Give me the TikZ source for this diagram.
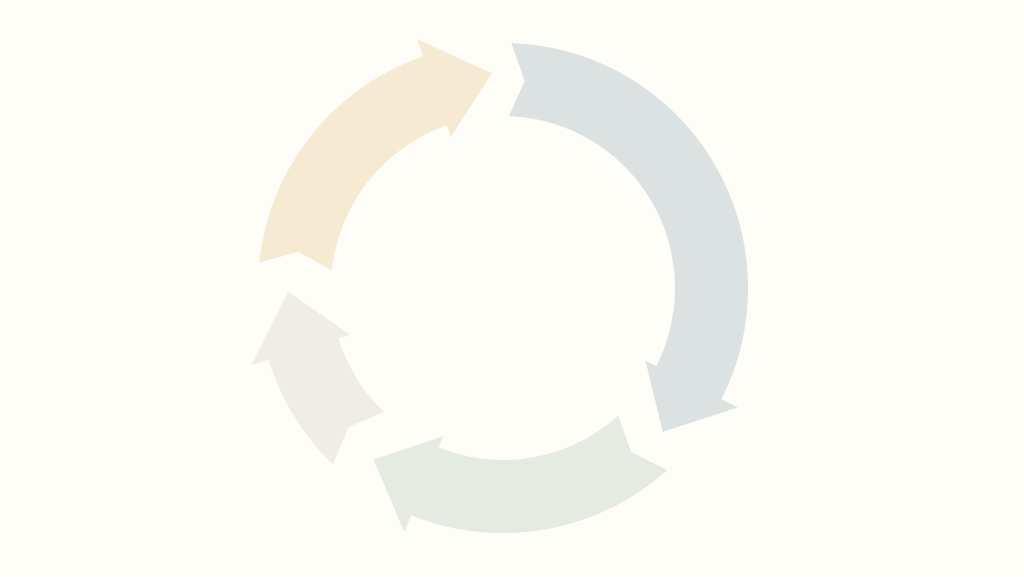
\documentclass[tikz,border=0pt]{standalone}
\usepackage{tikz}

\definecolor{bgcream}{HTML}{FEFDF7}
\definecolor{sand}{HTML}{F6EAD3}
\definecolor{slate}{HTML}{DCE2E1}
\definecolor{sage}{HTML}{E5EAE3}
\definecolor{stone}{HTML}{EFEDE7}

\begin{document}
\begin{tikzpicture}

          \fill[bgcream] (0,0) rectangle (10.24,5.76);
          \useasboundingbox (0,0) rectangle (10.24,5.76);

          \begin{scope}[xshift=5.03cm, yshift=2.88cm]
            % tail / head base / tip angles, clockwise
            \foreach \t/\b/\p/\c in {174/109/93/sand, 88/-27/-42/slate,
                                     -48/-112/-127/sage, 226/197/181/stone}{
              \fill[\c] (\t:2.45) arc[start angle=\t, end angle=\b, radius=2.45]
                -- (\b:2.63) -- (\p:2.15) -- (\b:1.60) -- (\b:1.72)
                arc[start angle=\b, end angle=\t, radius=1.72]
                -- ({\t-4}:2.08) -- cycle;
            }
          \end{scope}

        \end{tikzpicture}
\end{document}
